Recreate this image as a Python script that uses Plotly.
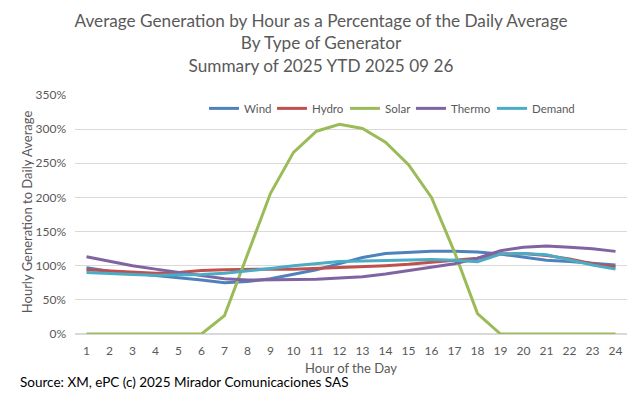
import plotly.graph_objects as go

hours = list(range(1, 25))
wind = [97, 92, 89, 86, 82, 79, 75, 77, 81, 87, 94, 103, 112, 118, 120, 121, 121, 120, 117, 113, 108, 106, 103, 101]
hydro = [94, 92, 90, 89, 90, 93, 94, 95, 95, 95, 96, 97, 98, 100, 102, 105, 108, 111, 117, 118, 115, 110, 103, 98]
solar = [0, 0, 0, 0, 0, 0, 27, 116, 206, 266, 297, 307, 301, 281, 248, 200, 120, 30, 0, 0, 0, 0, 0, 0]
thermo = [113, 106, 100, 95, 90, 86, 81, 79, 79, 79, 80, 82, 84, 88, 93, 98, 103, 111, 122, 127, 129, 127, 125, 121]
demand = [90, 88, 87, 86, 86, 87, 89, 92, 96, 100, 103, 106, 107, 108, 109, 109, 108, 106, 117, 118, 116, 108, 101, 95]

series_names = ["Wind", "Hydro", "Solar", "Thermo", "Demand"]
series_values = [wind, hydro, solar, thermo, demand]
series_colors = ["#4F81BD", "#C0504D", "#9BBB59", "#8064A2", "#4BACC6"]

FONT = "Lato"
GRAY = "#595959"

# page body has an 8px default margin; size the figure to fit inside the window
W, H = 634, 388
PLOT_L, PLOT_W = 75, 552          # plot area left edge / width on screen
PLOT_B, PLOT_H = 334, 239.4       # plot area bottom edge / height on screen
legend_starts = [210, 278, 351, 417, 498]   # screen x where each legend sample begins


def px_x(s):
    return (s - PLOT_L) / PLOT_W


def px_y(s):
    return (PLOT_B - s) / PLOT_H


fig = go.Figure()
legend_layout = {}
for i, (name, vals, color) in enumerate(zip(series_names, series_values, series_colors)):
    lname = "legend" if i == 0 else f"legend{i + 1}"
    fig.add_trace(go.Scatter(x=hours, y=vals, name=name, mode="lines",
                             line=dict(color=color, width=3), legend=lname))
    legend_layout[lname] = dict(
        orientation="h", x=px_x(legend_starts[i] - 6), xanchor="left",
        y=px_y(108), yanchor="middle",
        font=dict(family=FONT, size=11.5, color=GRAY), bgcolor="rgba(0,0,0,0)",
        itemwidth=30,
    )

fig.update_layout(
    width=W, height=H,
    margin=dict(l=67, r=15, t=87, b=62),
    paper_bgcolor="white", plot_bgcolor="white",
    font=dict(family=FONT, color=GRAY, size=12),
    title=dict(
        text="Average Generation by Hour as a Percentage of the Daily Average<br>By Type of Generator<br>Summary of 2025 YTD 2025 09 26",
        x=313 / W, xanchor="center", xref="container",
        y=1 - 19 / H, yanchor="middle", yref="container",
        font=dict(family=FONT, size=17.2, color=GRAY),
    ),
    showlegend=True,
    **legend_layout,
)
fig.update_xaxes(
    range=[0.5, 24.5], tickmode="array", tickvals=hours, ticktext=[str(h) for h in hours],
    showgrid=False, zeroline=False, showline=False, ticks="",
    ticklabelstandoff=8,
    tickfont=dict(family=FONT, size=12, color=GRAY),
    title=dict(text="Hour of the Day", font=dict(family=FONT, size=13, color=GRAY), standoff=6),
)
fig.update_yaxes(
    range=[0, 350], tickmode="array", tickvals=list(range(0, 351, 50)),
    ticktext=[f"{v}%" for v in range(0, 351, 50)],
    showgrid=True, gridcolor="#D9D9D9", gridwidth=1, zeroline=True, zerolinecolor="#D9D9D9",
    showline=False, ticks="",
    ticklabelstandoff=8,
    tickfont=dict(family=FONT, size=12, color=GRAY),
)
fig.add_annotation(
    text="Hourly Generation to Daily Average", textangle=-90,
    xref="paper", yref="paper", x=px_x(27), y=px_y(212),
    xanchor="center", yanchor="middle", showarrow=False,
    font=dict(family=FONT, size=13, color=GRAY),
)
fig.add_annotation(
    text="Source: XM, ePC (c) 2025 Mirador Comunicaciones SAS",
    xref="paper", yref="paper", x=px_x(18), y=px_y(382),
    xanchor="left", yanchor="middle", showarrow=False,
    font=dict(family=FONT, size=13.5, color="black"),
)

fig.write_html("out.html")
